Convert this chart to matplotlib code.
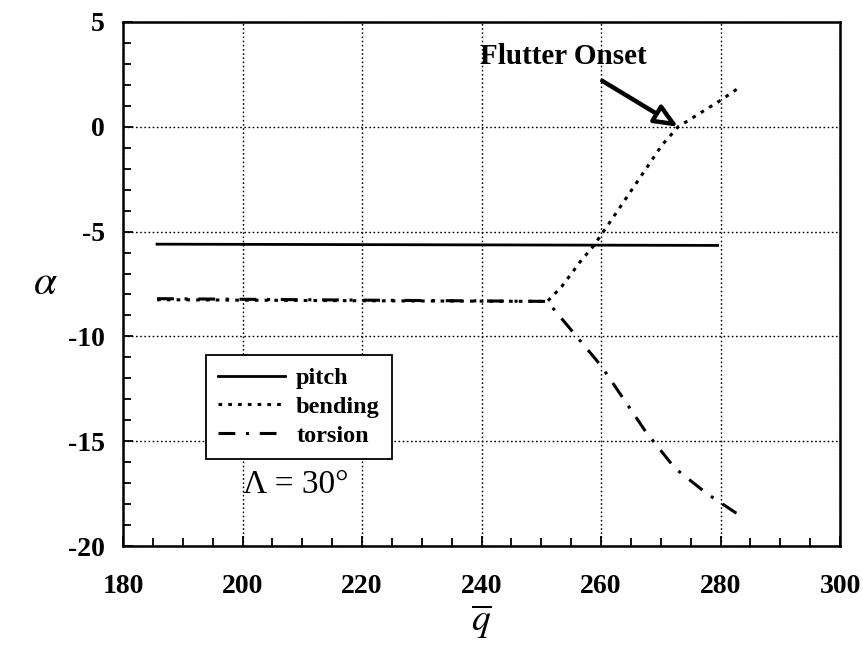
import matplotlib
matplotlib.use("Agg")
import matplotlib.pyplot as plt
from matplotlib.ticker import MultipleLocator
from matplotlib.patches import FancyArrowPatch

plt.rcParams["font.family"] = ["Liberation Serif", "DejaVu Serif"]
plt.rcParams["mathtext.fontset"] = "stix"
plt.rcParams["axes.unicode_minus"] = False

# Eigenvalue branches vs. dynamic pressure
pitch_q = [185.7, 279.5]
pitch_a = [-5.60, -5.66]

bending_q = [185.7, 220.0, 251.0, 253.4, 256.5, 258.7, 262.1, 270.2, 272.9, 280.1, 283.5]
bending_a = [-8.25, -8.30, -8.33, -7.63, -6.44, -5.70, -4.29, -0.87, 0.00, 1.28, 1.95]

torsion_q = [185.7, 220.0, 251.0, 260.0, 267.6, 272.4, 277.7, 283.5]
torsion_a = [-8.20, -8.27, -8.33, -11.40, -14.60, -16.30, -17.50, -18.60]

x_ticks = [180, 200, 220, 240, 260, 280, 300]
y_ticks = [5, 0, -5, -10, -15, -20]

onset_q, onset_a = 272.9, 0.0

fig = plt.figure(figsize=(8.63, 6.48), dpi=100)
ax = fig.add_axes([0.1425, 0.1574, 0.8310, 0.8087])

ax.plot(pitch_q, pitch_a, color="black", lw=2.0, ls="-", label="pitch")
ax.plot(bending_q, bending_a, color="black", lw=2.2, ls=(0, (1.2, 2.0)),
        label="bending")
ax.plot(torsion_q, torsion_a, color="black", lw=2.2, ls=(0, (5.5, 3.5, 1, 3.5)),
        label="torsion")

ax.set_xlim(180, 300)
ax.set_ylim(-20, 5)
ax.set_xticks(x_ticks)
ax.set_yticks(y_ticks)
ax.xaxis.set_minor_locator(MultipleLocator(5))
ax.yaxis.set_minor_locator(MultipleLocator(1))

ax.grid(True, which="major", color="black", lw=1.0, ls=(0, (1.2, 1.8)))
ax.set_axisbelow(True)

for s in ax.spines.values():
    s.set_linewidth(1.8)
ax.tick_params(which="both", direction="in", top=False, right=False,
               width=1.3)
ax.tick_params(which="major", length=7, labelsize=20)
ax.tick_params(axis="x", which="major", pad=20)
ax.tick_params(axis="y", which="major", pad=13)
ax.tick_params(which="minor", length=6)
for lab in ax.get_xticklabels() + ax.get_yticklabels():
    lab.set_fontweight("bold")

ax.set_xlabel(r"$\overline{q}$", fontsize=27, labelpad=3)
ax.set_ylabel(r"$\alpha$", fontsize=30, rotation=0, va="center")
ax.yaxis.set_label_coords(-0.108, 0.5)

leg = ax.legend(loc="upper left", bbox_to_anchor=(0.116, 0.3645),
                borderaxespad=0, fancybox=False, edgecolor="black",
                framealpha=1, handlelength=2.75, handletextpad=0.45,
                labelspacing=0.28, borderpad=0.5,
                prop={"family": "Liberation Serif", "weight": "bold", "size": 17.5})
leg.get_frame().set_linewidth(1.3)

ax.text(0.241, 0.1176, "\u039b = 30\u00b0", transform=ax.transAxes,
        ha="center", va="center", fontsize=24)

ax.text(253.6, 3.33, "Flutter Onset", ha="center", va="center",
        fontsize=21, fontweight="bold")
arrow = FancyArrowPatch((260.2, 2.19), (onset_q, onset_a),
                        arrowstyle="-|>,head_length=14,head_width=6",
                        mutation_scale=1, lw=3.2, ec="black", fc="white",
                        shrinkA=0, shrinkB=0, zorder=5)
ax.add_patch(arrow)

fig.savefig("out.png", dpi=100, facecolor="white")
